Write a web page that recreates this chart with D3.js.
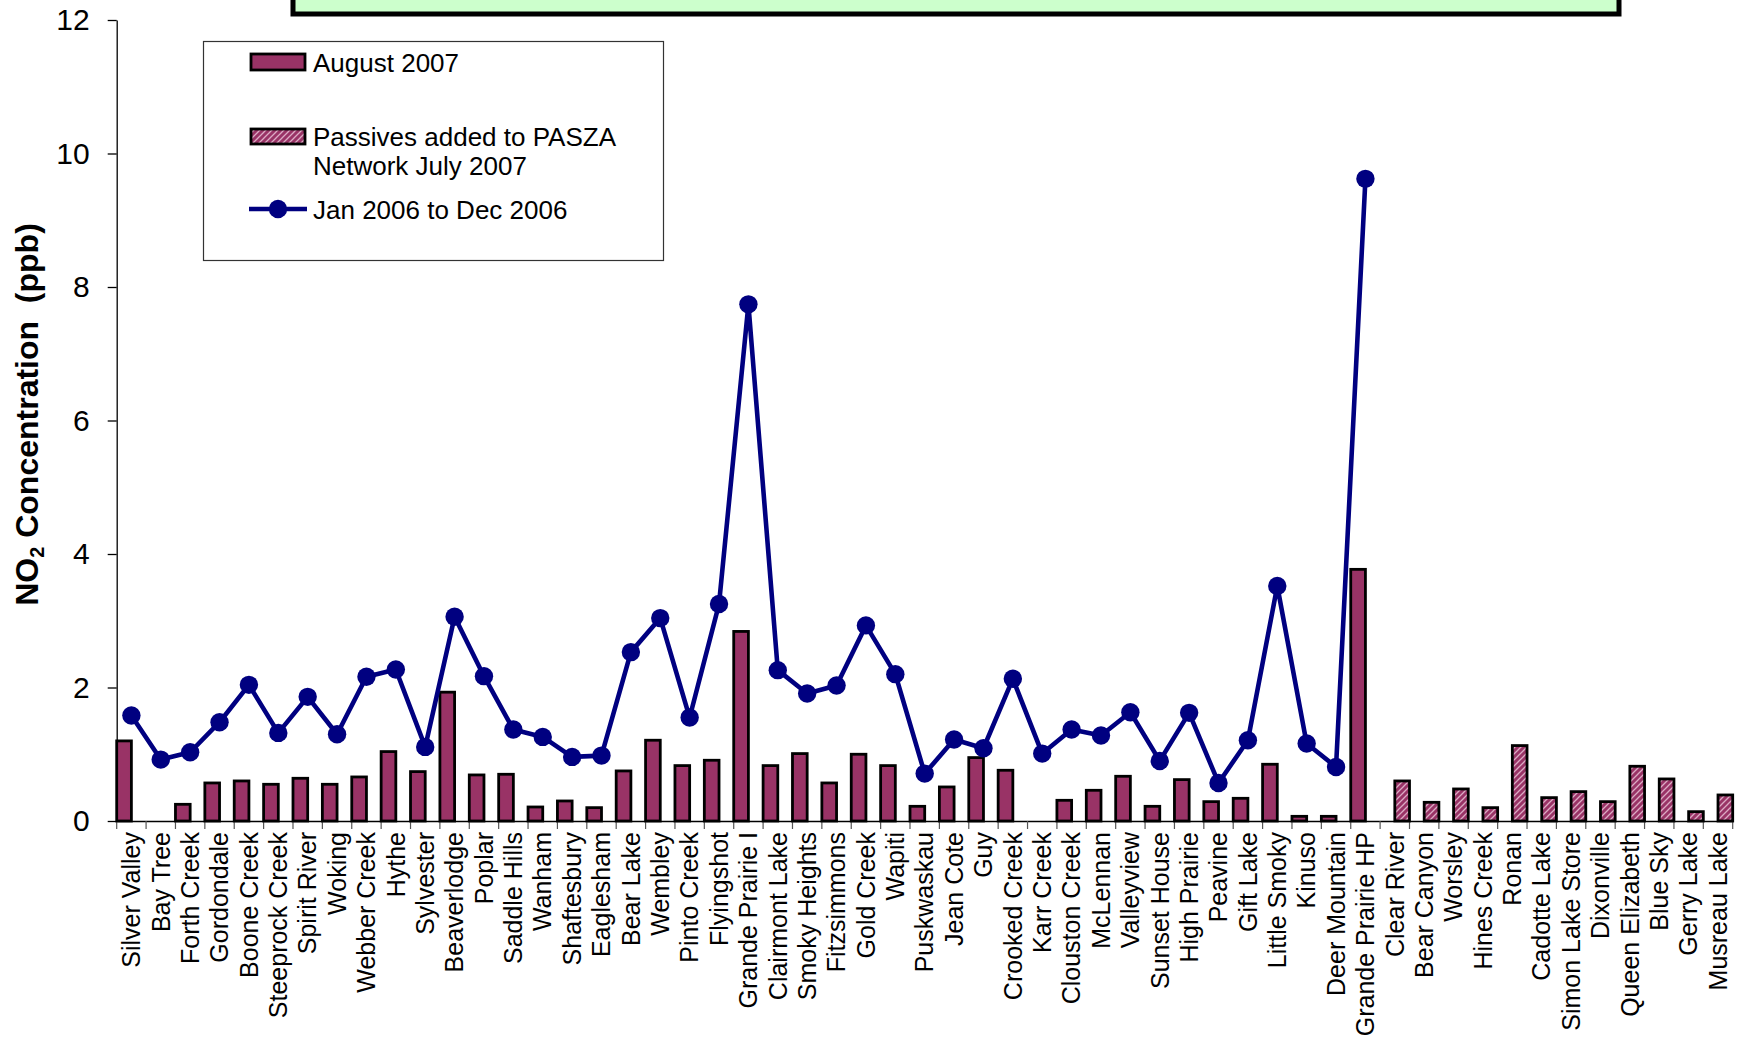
<!DOCTYPE html>
<html>
<head>
<meta charset="utf-8">
<script src="https://cdn.jsdelivr.net/npm/d3@7"></script>
<style>
  body { margin: 0; background: #fff; }
  text { font-family: "Liberation Sans", Arial, sans-serif; fill: #000; }
</style>
</head>
<body>
<div id="chart"></div>
<script>
// stations along the x axis
var sites = ["Silver Valley","Bay Tree","Forth Creek","Gordondale","Boone Creek","Steeprock Creek","Spirit River","Woking","Webber Creek","Hythe",
  "Sylvester","Beaverlodge","Poplar","Saddle Hills","Wanham","Shaftesbury","Eaglesham","Bear Lake","Wembley","Pinto Creek",
  "Flyingshot","Grande Prairie I","Clairmont Lake","Smoky Heights","Fitzsimmons","Gold Creek","Wapiti","Puskwaskau","Jean Cote","Guy",
  "Crooked Creek","Karr Creek","Clouston Creek","McLennan","Valleyview","Sunset House","High Prairie","Peavine","Gift Lake","Little Smoky",
  "Kinuso","Deer Mountain","Grande Prairie HP",
  "Clear River","Bear Canyon","Worsley","Hines Creek","Ronan","Cadotte Lake","Simon Lake Store","Dixonville","Queen Elizabeth","Blue Sky",
  "Gerry Lake","Musreau Lake"];

// August 2007 (first 43 stations, null = no bar)
var aug2007 = [1.20, null, 0.25, 0.57, 0.60, 0.55, 0.64, 0.55, 0.66, 1.04,
  0.74, 1.93, 0.69, 0.70, 0.21, 0.30, 0.20, 0.75, 1.21, 0.83,
  0.91, 2.84, 0.83, 1.01, 0.57, 1.00, 0.83, 0.22, 0.51, 0.95,
  0.76, null, 0.31, 0.46, 0.67, 0.22, 0.62, 0.29, 0.34, 0.85,
  0.07, 0.07, 3.77];

// passives added to PASZA network July 2007 (last 12 stations)
var passives = [0.60, 0.28, 0.48, 0.20, 1.13, 0.35, 0.44, 0.29, 0.82, 0.63, 0.14, 0.39];

// Jan 2006 to Dec 2006 (line, first 43 stations)
var avg2006 = [1.58, 0.92, 1.03, 1.48, 2.04, 1.32, 1.86, 1.30, 2.16, 2.27,
  1.11, 3.06, 2.17, 1.37, 1.26, 0.96, 0.98, 2.53, 3.04, 1.55,
  3.25, 7.74, 2.26, 1.91, 2.03, 2.93, 2.20, 0.71, 1.22, 1.09,
  2.13, 1.01, 1.37, 1.28, 1.63, 0.90, 1.62, 0.57, 1.21, 3.52,
  1.16, 0.81, 9.62];

var yTicks = [0, 2, 4, 6, 8, 10, 12];

var W = 1740, H = 1037;
var margin = {top: 20, right: 7.3, bottom: 216, left: 116.7};
var barFill = "#993366", lineCol = "#000080";

var svg = d3.select("#chart").append("svg")
    .attr("width", W)
    .attr("height", H);

var defs = svg.append("defs");
var pat = defs.append("pattern")
    .attr("id", "hatch")
    .attr("patternUnits", "userSpaceOnUse")
    .attr("width", 6).attr("height", 6);
pat.append("rect").attr("width", 6).attr("height", 6).attr("fill", barFill);
pat.append("path")
    .attr("d", "M-1,1 l2,-2 M0,6 l6,-6 M5,7 l2,-2")
    .attr("stroke", "#dcaac4").attr("stroke-width", 1.3);

// title box peeking in at the top
svg.append("rect")
    .attr("x", 293).attr("y", -30)
    .attr("width", 1326).attr("height", 44)
    .attr("fill", "#ccffcc")
    .attr("stroke", "#000").attr("stroke-width", 5);

var x = d3.scaleBand()
    .domain(sites)
    .range([margin.left, W - margin.right])
    .padding(0);

var xSub = d3.scaleBand()
    .domain(["aug", "passive"])
    .range([0, x.bandwidth()]);

var y = d3.scaleLinear()
    .domain([0, 12])
    .range([H - margin.bottom, margin.top]);

// y axis
var yAxis = svg.append("g")
    .attr("transform", "translate(" + margin.left + ",0)")
    .call(d3.axisLeft(y).tickValues(yTicks).tickSize(9).tickPadding(18).tickSizeOuter(0));
yAxis.select(".domain").attr("stroke", "#000").attr("stroke-width", 1.3);
yAxis.selectAll(".tick line").attr("stroke", "#000").attr("stroke-width", 1.3);
yAxis.selectAll(".tick text")
    .style("font-size", "30px")
    .style("font-family", "'Liberation Sans', Arial, sans-serif");

// x axis
var xAxis = svg.append("g")
    .attr("transform", "translate(0," + y(0) + ")")
    .call(d3.axisBottom(x).tickSize(0).tickPadding(0));
xAxis.select(".domain").attr("stroke", "#000").attr("stroke-width", 1.6);
xAxis.selectAll(".tick text")
    .style("font-size", "25px")
    .style("font-family", "'Liberation Sans', Arial, sans-serif")
    .attr("text-anchor", "end")
    .attr("transform", "rotate(-90)")
    .attr("x", -11)
    .attr("y", 0)
    .attr("dy", "0.35em");

// category boundary ticks
svg.append("g")
    .selectAll("line")
    .data(sites.concat(["__end"]))
    .join("line")
    .attr("x1", (d, i) => i < sites.length ? x(d) : x.range()[1])
    .attr("x2", (d, i) => i < sites.length ? x(d) : x.range()[1])
    .attr("y1", y(0))
    .attr("y2", y(0) + 8)
    .attr("stroke", "#555")
    .attr("stroke-width", 1.2);

// August 2007 bars
var augData = aug2007.map((v, i) => ({site: sites[i], value: v})).filter(d => d.value != null);
svg.append("g")
    .selectAll("rect")
    .data(augData)
    .join("rect")
    .attr("x", d => x(d.site) + xSub("aug"))
    .attr("y", d => y(d.value))
    .attr("width", xSub.bandwidth())
    .attr("height", d => y(0) - y(d.value))
    .attr("fill", barFill)
    .attr("stroke", "#000")
    .attr("stroke-width", 2.8);

// passive bars
var pasData = passives.map((v, i) => ({site: sites[aug2007.length + i], value: v}));
svg.append("g")
    .selectAll("rect")
    .data(pasData)
    .join("rect")
    .attr("x", d => x(d.site) + xSub("passive"))
    .attr("y", d => y(d.value))
    .attr("width", xSub.bandwidth())
    .attr("height", d => y(0) - y(d.value))
    .attr("fill", "url(#hatch)")
    .attr("stroke", "#000")
    .attr("stroke-width", 2.8);

// 2006 line
var lineData = avg2006.map((v, i) => ({site: sites[i], value: v}));
var line = d3.line()
    .x(d => x(d.site) + x.bandwidth() / 2)
    .y(d => y(d.value));
svg.append("path")
    .datum(lineData)
    .attr("d", line)
    .attr("fill", "none")
    .attr("stroke", lineCol)
    .attr("stroke-width", 4.6)
    .attr("stroke-linejoin", "round");
svg.append("g")
    .selectAll("circle")
    .data(lineData)
    .join("circle")
    .attr("cx", d => x(d.site) + x.bandwidth() / 2)
    .attr("cy", d => y(d.value))
    .attr("r", 9.2)
    .attr("fill", lineCol);

// y axis title
var yt = svg.append("text")
    .attr("transform", "translate(38," + (y(6) - 6) + ") rotate(-90)")
    .attr("text-anchor", "middle")
    .style("font-size", "32px")
    .style("font-weight", "bold")
    .style("white-space", "pre");
yt.append("tspan").text("NO");
yt.append("tspan").text("2").style("font-size", "20px").attr("dy", 6);
yt.append("tspan").text(" Concentration  (ppb)").attr("dy", -6);

// legend
var leg = svg.append("g");
leg.append("rect")
    .attr("x", 203.5).attr("y", 41.5)
    .attr("width", 460).attr("height", 219)
    .attr("fill", "#fff")
    .attr("stroke", "#333").attr("stroke-width", 1.2);
leg.append("rect")
    .attr("x", 251).attr("y", 54).attr("width", 54).attr("height", 16)
    .attr("fill", barFill).attr("stroke", "#000").attr("stroke-width", 2.8);
leg.append("text").attr("x", 313).attr("y", 72).style("font-size", "26px").text("August 2007");
leg.append("rect")
    .attr("x", 251).attr("y", 129).attr("width", 54).attr("height", 15)
    .attr("fill", "url(#hatch)").attr("stroke", "#000").attr("stroke-width", 2.8);
leg.append("text").attr("x", 313).attr("y", 146).style("font-size", "26px").text("Passives added to PASZA");
leg.append("text").attr("x", 313).attr("y", 175).style("font-size", "26px").text("Network July 2007");
leg.append("line")
    .attr("x1", 249).attr("x2", 307).attr("y1", 209).attr("y2", 209)
    .attr("stroke", lineCol).attr("stroke-width", 4.6);
leg.append("circle").attr("cx", 278).attr("cy", 209).attr("r", 9.2).attr("fill", lineCol);
leg.append("text").attr("x", 313).attr("y", 219).style("font-size", "26px").text("Jan 2006 to Dec 2006");
</script>
</body>
</html>
